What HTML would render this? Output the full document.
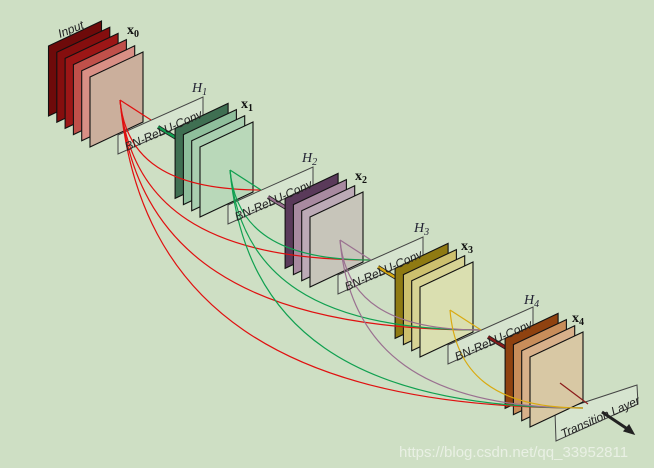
<!DOCTYPE html>
<html><head><meta charset="utf-8"><style>
html,body{margin:0;padding:0;background:#cedfc4;width:654px;height:468px;overflow:hidden}
svg{display:block}
.bt{font-family:"Liberation Sans",sans-serif;font-style:italic;font-size:12px;fill:#222}
.h{font-family:"Liberation Serif",serif;font-style:italic;font-size:14px;fill:#223}
.x{font-family:"Liberation Serif",serif;font-weight:bold;font-size:14px;fill:#111}
</style></head><body>
<svg id="s" width="654" height="468" viewBox="0 0 654 468" xmlns="http://www.w3.org/2000/svg">
<g id="boxes"></g>
<g id="arrows"></g>
<g id="blocks"></g>
<g id="curves" fill="none" stroke-width="1.2"></g>
<g id="texts">
<text x="60" y="38" class="bt" transform="rotate(-22 60 38)">Input</text>
<text x="127" y="34" class="x">x<tspan font-size="10" dy="3">0</tspan></text>
<text x="241" y="108" class="x">x<tspan font-size="10" dy="3">1</tspan></text>
<text x="355" y="180" class="x">x<tspan font-size="10" dy="3">2</tspan></text>
<text x="461" y="250" class="x">x<tspan font-size="10" dy="3">3</tspan></text>
<text x="572" y="322" class="x">x<tspan font-size="10" dy="3">4</tspan></text>
<text x="192" y="92" class="h">H<tspan font-size="10" dy="3">1</tspan></text>
<text x="302" y="162" class="h">H<tspan font-size="10" dy="3">2</tspan></text>
<text x="414" y="232" class="h">H<tspan font-size="10" dy="3">3</tspan></text>
<text x="524" y="304" class="h">H<tspan font-size="10" dy="3">4</tspan></text>
<text x="127" y="151" class="bt" transform="rotate(-24 127 151)">BN-ReLU-Conv</text>
<text x="237" y="221" class="bt" transform="rotate(-24 237 221)">BN-ReLU-Conv</text>
<text x="347" y="291" class="bt" transform="rotate(-24 347 291)">BN-ReLU-Conv</text>
<text x="457" y="361" class="bt" transform="rotate(-24 457 361)">BN-ReLU-Conv</text>
<text x="563" y="438" class="bt" transform="rotate(-24 563 438)">Transition Layer</text>
<text x="399" y="457" font-family="Liberation Sans,sans-serif" font-size="15" fill="#eef3ea" opacity="0.85">https://blog.csdn.net/qq_33952811</text>
</g>
</svg>
<script>
var NS="http://www.w3.org/2000/svg";
function el(p,t,a){var e=document.createElementNS(NS,t);for(var k in a)e.setAttribute(k,a[k]);document.getElementById(p).appendChild(e);return e;}
var cols=[
 ["#6e0a0a","#850e0e","#9c1616","#c0504a","#d98f85","#cbaf9c"],
 ["#3f6f52","#8fbf9c","#a9cfb0","#b9d8b9"],
 ["#5a3a5a","#a88aa0","#bcaab6","#c7c5ba"],
 ["#8f7a12","#cdc06e","#d7d394","#dadfb0"],
 ["#8f4210","#c88d5a","#d8b08a","#d8c8a4"]];
var lineCols=["#e01010","#10a050","#9a7090","#d9aa10","#8b1a1a"];
for(var j=1;j<=4;j++){var X=118+110*(j-1),Y=135+70*(j-1);
 el("boxes","polygon",{points:[X,Y,X+85,Y-38,X+85,Y-19,X,Y+19].join(" "),fill:"#d6e4cf",stroke:"#444","stroke-width":1});
 el("arrows","line",{x1:X+40,y1:Y-8,x2:X+60,y2:Y+4,stroke:"#222","stroke-width":4});
 el("arrows","line",{x1:X+40,y1:Y-8,x2:X+60,y2:Y+4,stroke:lineCols[j],"stroke-width":2.4});
}
el("boxes","polygon",{points:"555,412 637,385 638,404 556,441",fill:"#d6e4cf",stroke:"#444","stroke-width":1});
for(var b=0;b<5;b++){var X=90+110*b,Y=77+70*b,c=cols[b],n=c.length;
 for(var i=0;i<n;i++){var k=n-1-i,x=X-8.3*k,y=Y-6.2*k;
  el("blocks","polygon",{points:[x,y,x+53,y-25,x+53,y+45,x,y+70].join(" "),fill:c[i],stroke:"#111","stroke-width":1.1});}
}
var K=0.66;
for(var s=0;s<4;s++){var sx=120+110*s,sy=100+70*s;
 for(var t=s+1;t<=5;t++){var tx=151+110*(t-1),ty=120+70*(t-1);if(t==5){tx=583;ty=408;}
  if(t==s+1){el("curves","line",{x1:sx,y1:sy,x2:tx,y2:ty,stroke:lineCols[s]});continue;}
  var dx=tx-sx,dy=ty-sy;
  el("curves","path",{d:"M"+sx+","+sy+" C"+(sx+0.04*dx)+","+(sy+K*dy)+" "+(tx-K*dx)+","+ty+" "+tx+","+ty,stroke:lineCols[s]});
 }}
el("curves","line",{x1:560,y1:383,x2:588,y2:404,stroke:"#8b1a1a"});
el("curves","line",{x1:602,y1:412,x2:632,y2:432,stroke:"#222","stroke-width":3});
el("curves","polygon",{points:"634,434 624,431 629,425",fill:"#222",stroke:"#222"});
</script>
</body></html>
